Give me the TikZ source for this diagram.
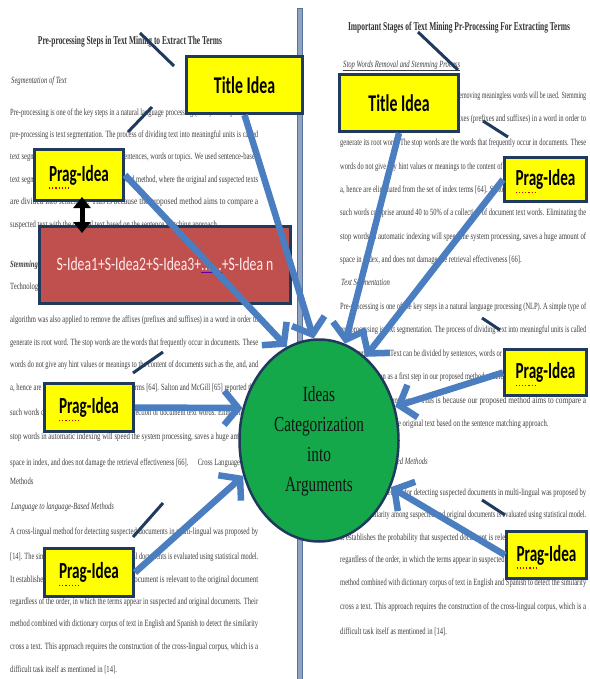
\documentclass[tikz,border=0pt]{standalone}
\usepackage{fontspec}
\usepackage{graphicx}
\usetikzlibrary{arrows.meta,shapes.geometric,calc}
\newfontfamily\bgserif[FakeStretch=0.70]{Liberation Serif}
\newfontfamily\boxsans[FakeStretch=0.66]{Carlito}
\newfontfamily\redsans[FakeStretch=0.72]{Carlito}
\newfontfamily\circserif[FakeStretch=0.71]{Liberation Serif}
\definecolor{boxyellow}{HTML}{FFFF00}
\definecolor{navyedge}{HTML}{1F3A5C}
\definecolor{ideared}{HTML}{C0504D}
\definecolor{circgreen}{HTML}{14A84A}
\definecolor{arrowblue}{HTML}{4A7EC1}
\definecolor{bartone}{HTML}{8FA3C4}
\definecolor{baredge}{HTML}{5A7298}
\definecolor{bgink}{HTML}{404040}
\newcommand\fullline[4]{\node[bgline] at (#1,#2) {\resizebox{#3pt}{\height}{#4}};}
\newcommand\partline[3]{\node[bgline] at (#1,#2) {#3};}
\begin{document}
\begin{tikzpicture}[x=1pt,y=-1pt,
  bgline/.style={anchor=mid west, inner sep=0pt, text=bgink, font=\bgserif\fontsize{9.5}{11}\selectfont},
  bgtitle/.style={anchor=center, inner sep=0pt, text=black!80, font=\bgserif\bfseries\fontsize{12}{14}\selectfont},
  ideabox/.style={draw=navyedge, line width=3pt, fill=boxyellow, inner sep=0pt, text=black},
  titlebox/.style={ideabox, font=\boxsans\bfseries\fontsize{24}{28}\selectfont},
  pragbox/.style={ideabox, font=\boxsans\bfseries\fontsize{23}{27}\selectfont},
  sumbox/.style={draw=navyedge, line width=3pt, fill=ideared, text=white!92!red, inner sep=0pt, font=\redsans\fontsize{19}{23}\selectfont},
  hub/.style={ellipse, draw=navyedge, line width=2.5pt, fill=circgreen, inner sep=0pt, text=black!92, font=\circserif\fontsize{21.5}{30}\selectfont},
  feed/.style={draw=arrowblue, line width=6.5pt, -{Straight Barb[length=14pt,width=34pt]}},
  pointer/.style={draw=navyedge, line width=3pt},
  link/.style={draw=black, line width=5pt, {Triangle[length=11pt,width=17pt]}-{Triangle[length=11pt,width=17pt]}},
  squig/.style={draw=red!85!black, line width=1.2pt, dotted}
]
\useasboundingbox (0,0) rectangle (589,679);
\fill[white] (0,0) rectangle (589,679);

% ---------- background page text: left column ----------
\node[bgtitle] (lefttitle) at (130,42) {\resizebox{184pt}{\height}{Pre-processing Steps in Text Mining to Extract The Terms}};
\partline{11}{81}{\itshape Segmentation of Text}
\fullline{10}{113}{248}{Pre-processing is one of the key steps in a natural language processing (NLP). A simple type of}
\fullline{10}{135}{248}{pre-processing is text segmentation. The process of dividing text into meaningful units is called}
\fullline{10}{157}{248}{text segmentation. Text can be divided by sentences, words or topics. We used sentence-based}
\fullline{10}{180}{248}{text segmentation as a first step in our proposed method, where the original and suspected texts}
\fullline{10}{202}{248}{are divided into sentences. This is because the proposed method aims to compare a}
\partline{10}{225}{suspected text with the original text based on the sentence matching approach.}
\partline{10}{265}{\bfseries\itshape Stemming Process}
\partline{10}{287}{Technology of removing meaningless words will be used. Stemming}
\fullline{10}{320}{248}{algorithm was also applied to remove the affixes (prefixes and suffixes) in a word in order to}
\fullline{10}{343}{248}{generate its root word. The stop words are the words that frequently occur in documents. These}
\fullline{10}{365}{248}{words do not give any hint values or meanings to the content of documents such as the, and, and}
\fullline{10}{388}{248}{a, hence are eliminated from the set of index terms [64]. Salton and McGill [65] reported that}
\fullline{10}{413}{248}{such words comprise around 40 to 50\% of a collection of document text words. Eliminating the}
\fullline{10}{437}{248}{stop words in automatic indexing will speed the system processing, saves a huge amount of}
\fullline{10}{463}{248}{space in index, and does not damage the retrieval effectiveness [66].\quad Cross Language-Based}
\partline{10}{482}{Methods}
\partline{11}{507}{\itshape Language to language-Based Methods}
\fullline{10}{532}{248}{A cross-lingual method for detecting suspected documents in multi-lingual was proposed by}
\fullline{10}{557}{248}{[14]. The similarity among suspected and original documents is evaluated using statistical model.}
\fullline{10}{580}{248}{It establishes the probability that suspected document is relevant to the original document}
\fullline{10}{602}{248}{regardless of the order, in which the terms appear in suspected and original documents. Their}
\fullline{10}{624}{248}{method combined with dictionary corpus of text in English and Spanish to detect the similarity}
\fullline{10}{647}{248}{cross a text. This approach requires the construction of the cross-lingual corpus, which is a}
\partline{10}{670}{difficult task itself as mentioned in [14].}

% ---------- background page text: right column ----------
\node[bgtitle] (righttitle) at (459,28) {\resizebox{222pt}{\height}{Important Stages of Text Mining Pr-Processing For Extracting Terms}};
\partline{343}{65}{\underline{\itshape Stop Words Removal and Stemming Process}}
\fullline{340}{96}{246}{Stop words removal technique which is used for removing meaningless words will be used. Stemming}
\fullline{340}{119}{246}{algorithm was also applied to remove the affixes (prefixes and suffixes) in a word in order to}
\fullline{340}{143}{246}{generate its root word. The stop words are the words that frequently occur in documents. These}
\fullline{340}{167}{246}{words do not give any hint values or meanings to the content of documents such as the, and, and}
\fullline{340}{190}{246}{a, hence are eliminated from the set of index terms [64]. Salton and McGill [65] reported that}
\fullline{340}{213}{246}{such words comprise around 40 to 50\% of a collection of document text words. Eliminating the}
\fullline{340}{237}{246}{stop words in automatic indexing will speed the system processing, saves a huge amount of}
\partline{340}{260}{space in index, and does not damage the retrieval effectiveness [66].}
\partline{341}{283}{\itshape Text Segmentation}
\fullline{340}{307}{246}{Pre-processing is one of the key steps in a natural language processing (NLP). A simple type of}
\fullline{340}{330}{246}{pre-processing is text segmentation. The process of dividing text into meaningful units is called}
\fullline{340}{354}{246}{text segmentation. Text can be divided by sentences, words or topics. We used sentence-based}
\fullline{340}{377}{246}{text segmentation as a first step in our proposed method, where the original and suspected texts}
\fullline{340}{401}{246}{are divided into sentences. This is because our proposed method aims to compare a}
\partline{340}{424}{suspected text with the original text based on the sentence matching approach.}
\partline{341}{462}{\itshape Cross Language-Based Methods}
\fullline{340}{493}{246}{A cross-lingual method for detecting suspected documents in multi-lingual was proposed by}
\fullline{340}{515}{246}{[14]. The similarity among suspected and original documents is evaluated using statistical model.}
\fullline{340}{538}{246}{It establishes the probability that suspected document is relevant to the original document}
\fullline{340}{560}{246}{regardless of the order, in which the terms appear in suspected and original documents. Their}
\fullline{340}{583}{246}{method combined with dictionary corpus of text in English and Spanish to detect the similarity}
\fullline{340}{607}{246}{cross a text. This approach requires the construction of the cross-lingual corpus, which is a}
\partline{340}{632}{difficult task itself as mentioned in [14].}

% ---------- page separator ----------
\draw[fill=bartone, draw=baredge, line width=0.8pt] (297,8) rectangle (302,680);

% ---------- callout pointers ----------
\coordinate (p1a) at (140,33);  \coordinate (p1b) at (174,66);
\coordinate (p2a) at (152,107); \coordinate (p2b) at (128,132);
\coordinate (p3a) at (418,32);  \coordinate (p3b) at (458,70);
\coordinate (p4a) at (483,121); \coordinate (p4b) at (508,137);
\coordinate (p5a) at (163,352); \coordinate (p5b) at (133,373);
\coordinate (p6a) at (482,318); \coordinate (p6b) at (500,330);
\coordinate (p7a) at (163,503); \coordinate (p7b) at (133,537);
\coordinate (p8a) at (482,500); \coordinate (p8b) at (505,515);
\foreach \k in {1,...,8} \draw[pointer] (p\k a) -- (p\k b);

% ---------- idea boxes ----------
\node[titlebox, minimum width=116pt, minimum height=57pt] (TL) at (244.5,85) {Title Idea};
\node[titlebox, minimum width=119pt, minimum height=57pt] (TR) at (399,103) {Title Idea};
\node[pragbox, minimum width=89pt, minimum height=51pt] (PL1) at (79,175) {Prag-Idea};
\node[pragbox, minimum width=89pt, minimum height=48pt] (PL2) at (89,407.5) {Prag-Idea};
\node[pragbox, minimum width=89pt, minimum height=48pt] (PL3) at (89,572.5) {Prag-Idea};
\node[pragbox, minimum width=82pt, minimum height=44pt] (PR1) at (545.5,179.5) {Prag-Idea};
\node[pragbox, minimum width=82pt, minimum height=46pt] (PR2) at (545.5,372.5) {Prag-Idea};
\node[pragbox, minimum width=80pt, minimum height=47pt] (PR3) at (546.5,555) {Prag-Idea};
\foreach \b in {PL1,PL2,PL3,PR1,PR2,PR3}
  \draw[squig] ($(\b.center)+(-30,13)$) -- ($(\b.center)+(-9,13)$);

\node[sumbox, minimum width=251pt, minimum height=77pt] (Red) at (165,265)
  {S-Idea1+S-Idea2+S-Idea3+{\color{blue!65!red}\underline{\textcolor{white!92!red}{......}}}+S-Idea n};

\node[hub, minimum width=159pt, minimum height=202pt] (Circ) at (319,440.5)
  {\raisebox{-5pt}{\begin{tabular}{@{}c@{}}Ideas\\Categorization\\into\\Arguments\end{tabular}}};

% ---------- arrows into the hub ----------
\draw[feed] (TL.south) -- (Circ.93);
\draw[feed] (PL1.east) -- (Circ.109);
\draw[feed] (TR.south) -- (Circ.75.5);
\draw[feed] (PR1.west) -- (Circ.61);
\draw[feed] (PR2.west) -- (Circ.24);
\draw[feed] (PR3.west) -- (Circ.-33);
\draw[feed] (PL3.east) -- (Circ.205);
\draw[feed] (PL2.east) -- (Circ.157.5);

% ---------- double arrow between Prag-Idea and the sum ----------
\draw[link, shorten <=-5pt, shorten >=-8pt] ($(PL1.south)+(3,0)$) -- ($(PL1.south |- Red.north)+(3,0)$);
\end{tikzpicture}
\end{document}
